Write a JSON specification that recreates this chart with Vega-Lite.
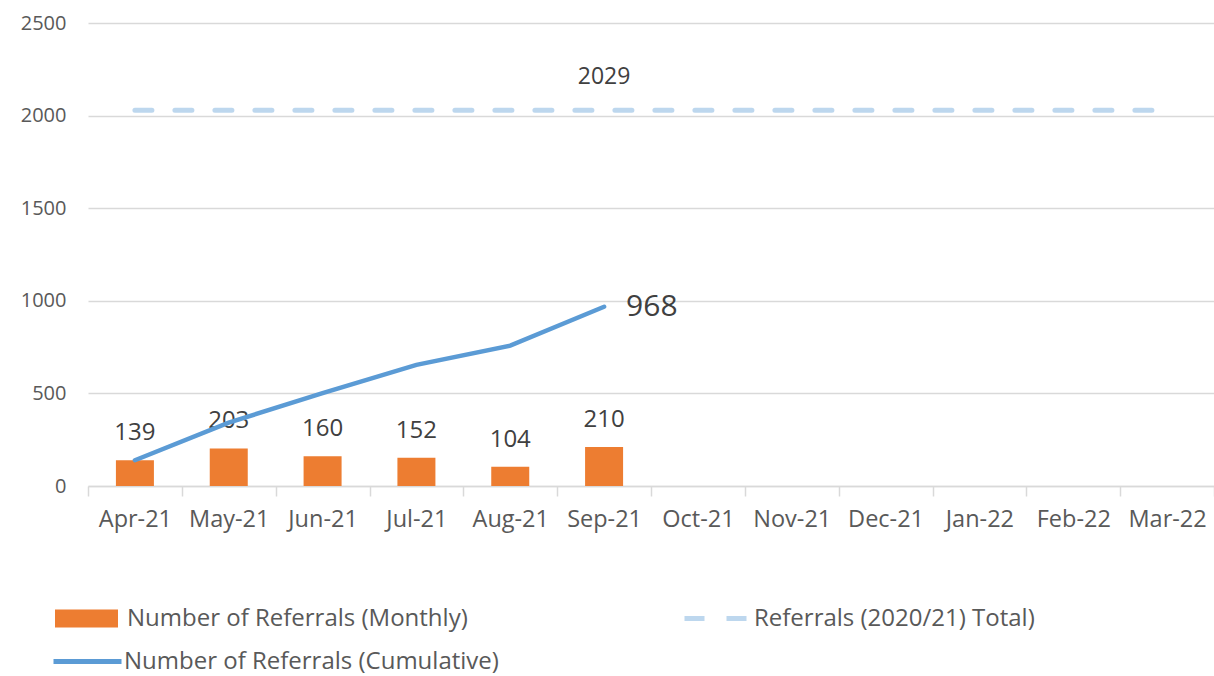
{
  "$schema": "https://vega.github.io/schema/vega-lite/v6.json",
  "autosize": "none",
  "padding": {"left": 88, "top": 23, "right": 0, "bottom": 190},
  "width": 1126,
  "height": 463,
  "background": "white",
  "config": {
    "font": "Open Sans",
    "view": {"stroke": null},
    "legend": {
      "orient": "none",
      "padding": 0,
      "labelFont": "Open Sans",
      "labelFontSize": 24,
      "labelColor": "#595959",
      "labelLimit": 0,
      "title": null,
      "symbolOpacity": 1
    }
  },
  "data": {
    "values": [
      {"month": "Apr-21", "monthly": 139, "cumulative": 139, "total": 2029},
      {"month": "May-21", "monthly": 203, "cumulative": 342, "total": 2029},
      {"month": "Jun-21", "monthly": 160, "cumulative": 502, "total": 2029},
      {"month": "Jul-21", "monthly": 152, "cumulative": 654, "total": 2029},
      {"month": "Aug-21", "monthly": 104, "cumulative": 758, "total": 2029},
      {"month": "Sep-21", "monthly": 210, "cumulative": 968, "total": 2029},
      {"month": "Oct-21", "monthly": null, "cumulative": null, "total": 2029},
      {"month": "Nov-21", "monthly": null, "cumulative": null, "total": 2029},
      {"month": "Dec-21", "monthly": null, "cumulative": null, "total": 2029},
      {"month": "Jan-22", "monthly": null, "cumulative": null, "total": 2029},
      {"month": "Feb-22", "monthly": null, "cumulative": null, "total": 2029},
      {"month": "Mar-22", "monthly": null, "cumulative": null, "total": 2029}
    ]
  },
  "encoding": {
    "x": {
      "field": "month",
      "type": "ordinal",
      "sort": null,
      "scale": {"type": "band", "paddingInner": 0, "paddingOuter": 0},
      "axis": {
        "title": null,
        "labelAngle": 0,
        "labelFontSize": 23.5,
        "labelColor": "#595959",
        "labelPadding": 11,
        "tickBand": "extent",
        "tickSize": 10,
        "tickColor": "#D9D9D9",
        "tickWidth": 1.5,
        "domainColor": "#D9D9D9",
        "domainWidth": 1.5,
        "grid": false
      }
    }
  },
  "layer": [
    {
      "mark": {"type": "bar", "width": {"band": 0.405}},
      "encoding": {
        "y": {
          "field": "monthly",
          "type": "quantitative",
          "scale": {"domain": [0, 2500], "nice": false},
          "axis": {
            "title": null,
            "values": [0, 500, 1000, 1500, 2000, 2500],
            "format": "d",
            "labelFontSize": 20,
            "labelColor": "#595959",
            "labelPadding": 22,
            "ticks": false,
            "domain": false,
            "gridColor": "#D9D9D9",
            "gridWidth": 1.5
          }
        },
        "color": {
          "datum": "Number of Referrals (Monthly)",
          "scale": {"range": ["#ED7D31"]},
          "legend": {
            "legendX": -33,
            "legendY": 564,
            "symbolType": "M-1,-0.286H1V0.286H-1Z",
            "symbolSize": 3969,
            "symbolStrokeWidth": 0,
            "labelOffset": 9
          }
        }
      }
    },
    {
      "mark": {"type": "text", "fontSize": 24, "color": "#404040", "baseline": "middle", "dy": -27},
      "encoding": {
        "y": {"field": "monthly", "type": "quantitative"},
        "text": {"field": "monthly", "type": "quantitative"}
      }
    },
    {
      "mark": {"type": "line", "strokeWidth": 5, "strokeDash": [17, 23], "strokeCap": "round"},
      "encoding": {
        "y": {"field": "total", "type": "quantitative"},
        "color": {
          "datum": "Referrals (2020/21) Total)",
          "scale": {"range": ["#BDD7EE"]},
          "legend": {
            "legendX": 594,
            "legendY": 562,
            "symbolType": "stroke",
            "symbolSize": 3844,
            "symbolStrokeWidth": 5,
            "symbolDash": [20, 22],
            "labelOffset": 5
          }
        }
      }
    },
    {
      "transform": [{"filter": "datum.month === 'Sep-21'"}],
      "mark": {"type": "text", "fontSize": 23, "color": "#404040", "baseline": "middle", "dy": -33},
      "encoding": {
        "y": {"field": "total", "type": "quantitative"},
        "text": {"field": "total", "type": "quantitative"}
      }
    },
    {
      "mark": {"type": "line", "strokeWidth": 4.5, "strokeCap": "round"},
      "encoding": {
        "y": {"field": "cumulative", "type": "quantitative"},
        "color": {
          "datum": "Number of Referrals (Cumulative)",
          "scale": {"range": ["#5B9BD5"]},
          "legend": {
            "legendX": -37,
            "legendY": 602,
            "symbolType": "stroke",
            "symbolSize": 4624,
            "symbolStrokeWidth": 5,
            "labelOffset": 0
          }
        }
      }
    },
    {
      "transform": [{"filter": "datum.month === 'Sep-21'"}],
      "mark": {"type": "text", "fontSize": 30, "color": "#404040", "baseline": "middle", "align": "left", "dx": 22},
      "encoding": {
        "y": {"field": "cumulative", "type": "quantitative"},
        "text": {"field": "cumulative", "type": "quantitative"}
      }
    }
  ],
  "resolve": {"scale": {"color": "independent"}}
}
